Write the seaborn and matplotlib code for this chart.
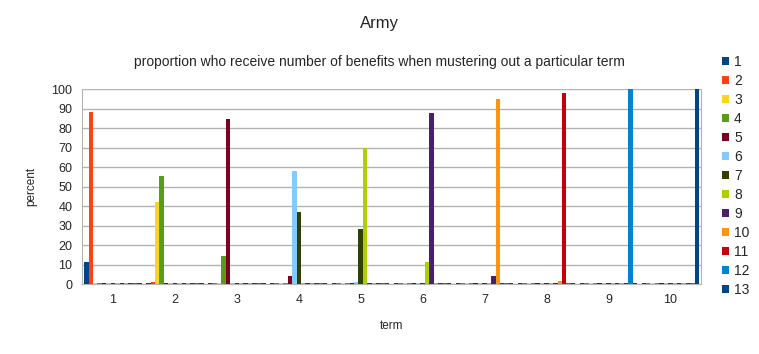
import seaborn as sns
import pandas as pd
import numpy as np
import matplotlib.pyplot as plt
from matplotlib.patches import Patch

# data: percent of musters who get n benefits, per term served
terms = ["1", "2", "3", "4", "5", "6", "7", "8", "9", "10"]
benefits = [str(i) for i in range(1, 14)]
z = 0.6  # zero bars still show as a thin line in the original
b1 = [11.5, z, z, z, z, z, z, z, z, z]
b2 = [88.5, 1.3, z, z, z, z, z, z, z, z]
b3 = [z, 42.2, z, z, z, z, z, z, z, z]
b4 = [z, 55.5, 14.5, z, z, z, z, z, z, z]
b5 = [z, z, 84.7, 4.2, z, z, z, z, z, z]
b6 = [z, z, z, 58.2, 1.2, z, z, z, z, z]
b7 = [z, z, z, 37.0, 28.4, z, z, z, z, z]
b8 = [z, z, z, z, 69.7, 11.4, z, z, z, z]
b9 = [z, z, z, z, z, 87.8, 4.2, z, z, z]
b10 = [z, z, z, z, z, z, 95.0, 1.7, z, z]
b11 = [z, z, z, z, z, z, z, 98.0, z, z]
b12 = [z, z, z, z, z, z, z, z, 100.0, z]
b13 = [z, z, z, z, z, z, z, z, z, 100.0]
series = [b1, b2, b3, b4, b5, b6, b7, b8, b9, b10, b11, b12, b13]

colors = ["#004586", "#ff420e", "#ffd320", "#579d1c", "#7e0021", "#83caff",
          "#314004", "#aecf00", "#4b1f6f", "#ff950e", "#c5000b", "#0084d1",
          "#004586"]

rows = []
for b, vals in zip(benefits, series):
    for t, v in zip(terms, vals):
        rows.append({"term": t, "benefits": b, "percent": v})
df = pd.DataFrame(rows)

sns.set_style("white")
plt.rcParams["font.family"] = ["Liberation Sans", "DejaVu Sans"]

fig = plt.figure(figsize=(7.59, 3.54), dpi=100)
ax = fig.add_axes([0.108, 0.197, 0.816, 0.551])

sns.barplot(data=df, x="term", y="percent", hue="benefits", order=terms,
            hue_order=benefits, palette=colors, width=13 / 14,
            saturation=1, linewidth=0, ax=ax, legend=False)
for p in ax.patches:
    p.set_zorder(3)

ax.set_xlim(-0.5, 9.5)
ax.set_ylim(0, 100)
ax.set_yticks(range(0, 101, 10))
ax.yaxis.grid(True, color="#b3b3b3", linewidth=1)
ax.set_axisbelow(True)
for s in ax.spines.values():
    s.set_color("#b3b3b3")
ax.spines["top"].set_visible(False)

ax.set_xticks(np.arange(-0.5, 10, 1), minor=True)
ax.tick_params(axis="x", which="major", length=0, labelsize=9, pad=7)
ax.tick_params(axis="x", which="minor", length=5, color="#b3b3b3")
ax.tick_params(axis="y", length=5, color="#b3b3b3", labelsize=9, pad=2)

ax.set_xlabel("term", fontsize=8.5, labelpad=10)
ax.set_ylabel("percent", fontsize=8.5, labelpad=10)

fig.text(0.5, 0.935, "Army", ha="center", va="center", fontsize=12)
fig.text(0.5, 0.825, "proportion who receive number of benefits when mustering out a particular term",
         ha="center", va="center", fontsize=10)

handles = [Patch(facecolor=c, edgecolor="none") for c in colors]
ax.legend(handles, benefits, loc="center left", bbox_to_anchor=(0.944, 0.503),
          bbox_transform=fig.transFigure, frameon=False, fontsize=10,
          handlelength=0.5, handleheight=0.5, handletextpad=0.36,
          labelspacing=0.36, borderaxespad=0)

fig.savefig("out.png", dpi=100)
